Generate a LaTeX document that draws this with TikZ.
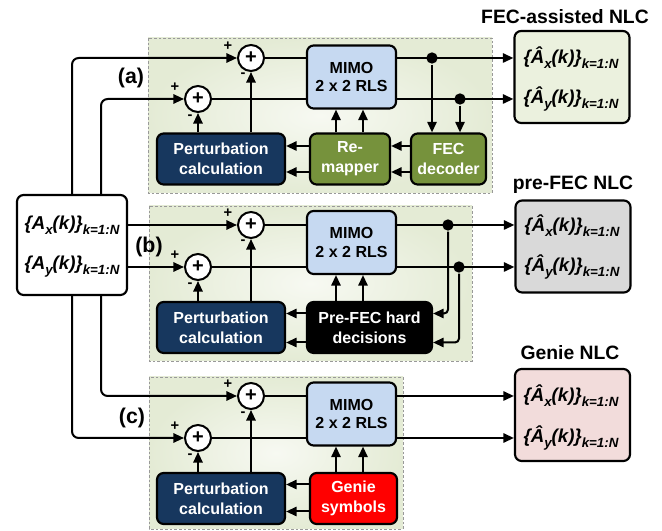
\documentclass[tikz,border=0pt]{standalone}
\usepackage{fontspec}
\setmainfont{Liberation Sans}
\usetikzlibrary{arrows.meta,calc}
\definecolor{panelin}{HTML}{F7F9F2}
\definecolor{panelout}{HTML}{E4EBD5}
\definecolor{mimo}{HTML}{C6D9F1}
\definecolor{navy}{HTML}{17375E}
\definecolor{olive}{HTML}{76923C}
\definecolor{outa}{HTML}{EBF1DE}
\definecolor{outb}{HTML}{D9D9D9}
\definecolor{outc}{HTML}{F2DCDB}
\definecolor{genie}{HTML}{FF0000}
\newcommand{\sbx}[1]{\raisebox{-0.5ex}{\fontsize{10}{10}\selectfont #1}}
\newcommand{\symx}{\{Â\sbx{x}(k)\}\sbx{k=1:N}}
\newcommand{\symy}{\{Â\sbx{y}(k)\}\sbx{k=1:N}}
\begin{document}
\begin{tikzpicture}[x=0.75pt,y=-0.75pt,
  line width=1.5pt,
  arr/.style={-{Triangle[length=8pt,width=7pt]}},
  box/.style={draw=black, line width=1.6pt, rounded corners=5pt, align=center, inner sep=0pt, font=\bfseries\fontsize{12}{15}\selectfont},
  mimobox/.style={box, fill=mimo, minimum width=66.75pt, minimum height=47.25pt, font=\bfseries\fontsize{12}{14}\selectfont},
  pertbox/.style={box, fill=navy, text=white, minimum width=96pt, minimum height=38.25pt},
  lowbox/.style={box, text=white, minimum height=38.25pt},
  outbox/.style={draw=black, line width=1.6pt, rounded corners=5pt, minimum width=86.25pt, minimum height=69pt},
  sumnode/.style={circle, draw, fill=white, line width=1.5pt, minimum size=19.5pt, inner sep=0pt, font=\bfseries\fontsize{15}{15}\selectfont},
  sgn/.style={font=\bfseries\fontsize{11}{11}\selectfont, inner sep=0pt},
  dotnode/.style={circle, fill=black, minimum size=8.5pt, inner sep=0pt},
  panel/.style={draw=gray!80, line width=0.5pt, dash pattern=on 2pt off 1.5pt, inner color=panelin, outer color=panelout},
  lbl/.style={font=\bfseries\fontsize{16}{16}\selectfont},
  ttl/.style={font=\bfseries\fontsize{14.5}{14.5}\selectfont},
  sym/.style={font=\bfseries\itshape\fontsize{14}{14}\selectfont, inner sep=0pt}
]
\useasboundingbox (0,0) rectangle (662,531);
% panels
\shadedraw[panel] (148,38) rectangle (492,193);
\shadedraw[panel] (149,206) rectangle (472,361);
\shadedraw[panel] (149,377) rectangle (403,529);

\coordinate (u1) at (336,0);
\coordinate (u2) at (363,0);

% input box
\node[outbox, fill=white, minimum width=82.5pt, minimum height=75pt] (in) at (72,245) {};
\node[sym] (inx) at (72,225) {\{A\sbx{x}(k)\}\sbx{k=1:N}};
\node[sym] (iny) at (72,267) {\{A\sbx{y}(k)\}\sbx{k=1:N}};

% ================= panel (a)
\node[lbl] (la) at (131,78) {(a)};
\node[mimobox] (ma) at (351.5,77) {MIMO\\2 x 2 RLS};
\node[sumnode] (sa1) at (251,58) {+};
\node[sumnode] (sa2) at (198,99) {+};
\node[sgn] (sa1p) at (228,46) {+};
\node[sgn] (sa1m) at (243,75) {-};
\node[sgn] (sa2p) at (175,87) {+};
\node[sgn] (sa2m) at (190,117) {-};
\node[pertbox] (pa) at (221,159) {Perturbation\\calculation};
\node[lowbox, fill=olive, minimum width=60pt] (ra) at (350,159) {Re-\\mapper};
\node[lowbox, fill=olive, minimum width=56.25pt] (fa) at (448.5,159) {FEC\\decoder};
\node[outbox, fill=outa] (oa) at (572,77) {};
\node[sym] (oax) at (571,58) {\symx};
\node[sym] (oay) at (571,99) {\symy};
\node[ttl] (ta) at (565,17) {FEC-assisted NLC};

\draw (sa1.east) -- (sa1.east -| ma.west);
\draw (sa2.east) -- (sa2.east -| ma.west);
\draw[arr] (ma.east |- sa1) -- (sa1 -| oa.west);
\draw[arr] (ma.east |- sa2) -- (sa2 -| oa.west);
\node[dotnode] (da1) at (432,58) {};
\node[dotnode] (da2) at (460,99) {};
\draw[arr] (da1) -- (da1 |- fa.north);
\draw[arr] (da2) -- (da2 |- fa.north);
\coordinate (qa1) at ($(fa.west)+(0,-13)$);
\coordinate (qa2) at ($(fa.west)+(0,13)$);
\draw[arr] (qa1) -- (qa1 -| ra.east);
\draw[arr] (qa2) -- (qa2 -| ra.east);
\draw[arr] (ra.west |- qa1) -- (qa1 -| pa.east);
\draw[arr] (ra.west |- qa2) -- (qa2 -| pa.east);
\draw[arr] (ra.north -| u1) -- (ma.south -| u1);
\draw[arr] (ra.north -| u2) -- (ma.south -| u2);
\draw[arr] (pa.north -| sa1) -- (sa1.south);
\draw[arr] (pa.north -| sa2) -- (sa2.south);

% ================= panel (b)
\node[lbl] (lb) at (149,247) {(b)};
\node[mimobox] (mb) at (351.5,242.5) {MIMO\\2 x 2 RLS};
\node[sumnode] (sb1) at (251,225) {+};
\node[sumnode] (sb2) at (198,267) {+};
\node[sgn] (sb1p) at (228,213) {+};
\node[sgn] (sb1m) at (243,242) {-};
\node[sgn] (sb2p) at (175,255) {+};
\node[sgn] (sb2m) at (190,285) {-};
\node[pertbox] (pb) at (221,327.5) {Perturbation\\calculation};
\node[lowbox, fill=black, minimum width=93.75pt] (hb) at (369.5,327.5) {Pre-FEC hard\\decisions};
\node[outbox, fill=outb] (ob) at (573,246.5) {};
\node[sym] (obx) at (572,226) {\symx};
\node[sym] (oby) at (572,267) {\symy};
\node[ttl] (tb) at (573,185) {pre-FEC NLC};

\draw (sb1.east) -- (sb1.east -| mb.west);
\draw (sb2.east) -- (sb2.east -| mb.west);
\draw[arr] (mb.east |- sb1) -- (sb1 -| ob.west);
\draw[arr] (mb.east |- sb2) -- (sb2 -| ob.west);
\node[dotnode] (db1) at (448,225) {};
\node[dotnode] (db2) at (459,267) {};
\coordinate (qb1) at ($(hb.east)+(0,-14)$);
\coordinate (qb2) at ($(hb.east)+(0,15)$);
\draw[arr, rounded corners=3pt] (db1) |- (qb1);
\draw[arr, rounded corners=3pt] (db2) |- (qb2);
\draw[arr] (hb.west |- qb1) -- (qb1 -| pb.east);
\draw[arr] (hb.west |- qb2) -- (qb2 -| pb.east);
\draw[arr] (hb.north -| u1) -- (mb.south -| u1);
\draw[arr] (hb.north -| u2) -- (mb.south -| u2);
\draw[arr] (pb.north -| sb1) -- (sb1.south);
\draw[arr] (pb.north -| sb2) -- (sb2.south);

% ================= panel (c)
\node[lbl] (lc) at (132,418) {(c)};
\node[mimobox] (mc) at (351.5,414) {MIMO\\2 x 2 RLS};
\node[sumnode] (sc1) at (251,396) {+};
\node[sumnode] (sc2) at (198,438) {+};
\node[sgn] (sc1p) at (228,384) {+};
\node[sgn] (sc1m) at (243,414) {-};
\node[sgn] (sc2p) at (175,426) {+};
\node[sgn] (sc2m) at (190,456) {-};
\node[pertbox] (pc) at (221,498.5) {Perturbation\\calculation};
\node[lowbox, fill=genie, minimum width=65.25pt] (gc) at (353.5,498.5) {Genie\\symbols};
\node[outbox, fill=outc] (oc) at (572.5,415) {};
\node[sym] (ocx) at (571,396) {\symx};
\node[sym] (ocy) at (571,438) {\symy};
\node[ttl] (tc) at (570,353) {Genie NLC};

\draw (sc1.east) -- (sc1.east -| mc.west);
\draw (sc2.east) -- (sc2.east -| mc.west);
\draw[arr] (mc.east |- sc1) -- (sc1 -| oc.west);
\draw[arr] (mc.east |- sc2) -- (sc2 -| oc.west);
\coordinate (qc1) at ($(gc.west)+(0,-14)$);
\coordinate (qc2) at ($(gc.west)+(0,13)$);
\draw[arr] (qc1) -- (qc1 -| pc.east);
\draw[arr] (qc2) -- (qc2 -| pc.east);
\draw[arr] (gc.north -| u1) -- (mc.south -| u1);
\draw[arr] (gc.north -| u2) -- (mc.south -| u2);
\draw[arr] (pc.north -| sc1) -- (sc1.south);
\draw[arr] (pc.north -| sc2) -- (sc2.south);

% ================= inputs
\draw[arr, rounded corners=5pt] (in.north) |- (sa1.west);
\draw[arr, rounded corners=5pt] ([xshift=21.75pt]in.north) |- (sa2.west);
\draw[arr] (in.east |- sb1) -- (sb1.west);
\draw[arr] (in.east |- sb2) -- (sb2.west);
\draw[arr, rounded corners=5pt] ([xshift=21.75pt]in.south) |- (sc1.west);
\draw[arr, rounded corners=5pt] (in.south) |- (sc2.west);
\end{tikzpicture}
\end{document}
